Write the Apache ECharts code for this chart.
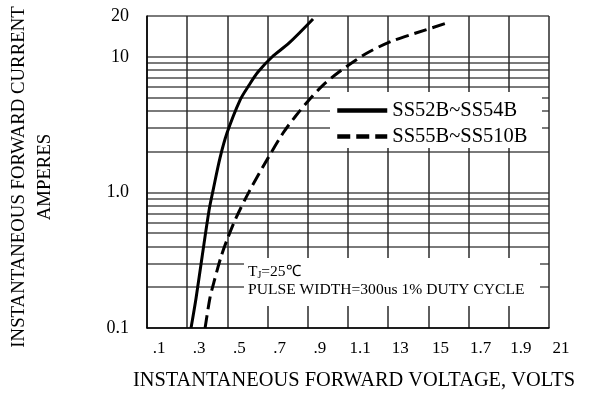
<!DOCTYPE html>
<html><head><meta charset="utf-8">
<script src="https://cdn.jsdelivr.net/npm/echarts@6/dist/echarts.min.js"></script>
<style>html,body{margin:0;padding:0;background:#fff}#c{width:599px;height:398px}</style>
</head><body><div id="c"></div>
<script>
const seriesNames = ['SS52B~SS54B', 'SS55B~SS510B'];
// Solid curve: forward voltage (V) and forward current (A)
const solidV = [0.319, 0.344, 0.374, 0.409, 0.429, 0.463, 0.498, 0.563, 0.608, 0.652, 0.722, 0.806, 0.926];
const solidI = [0.10, 0.166, 0.334, 0.742, 1.04, 1.79, 2.74, 4.80, 6.19, 7.72, 9.97, 12.6, 19.0];
// Dashed curve
const dashV = [0.389, 0.413, 0.433, 0.468, 0.498, 0.543, 0.612, 0.702, 0.777, 0.836, 0.906, 0.976, 1.055, 1.140, 1.204, 1.309, 1.438, 1.592];
const dashI = [0.100, 0.166, 0.218, 0.334, 0.446, 0.648, 1.04, 1.79, 2.74, 3.60, 4.80, 6.19, 7.72, 9.47, 10.85, 12.9, 14.98, 17.75];
// Axis ticks
const xTickValues = [0.1, 0.3, 0.5, 0.7, 0.9, 1.1, 1.3, 1.5, 1.7, 1.9, 2.1];
const xTickLabels = ['.1', '.3', '.5', '.7', '.9', '1.1', '13', '15', '1.7', '1.9', '21'];
const yGridValues = [0.1, 0.2, 0.3, 0.4, 0.5, 0.6, 0.7, 0.8, 0.9, 1, 2, 3, 4, 5, 6, 7, 8, 9, 10, 20];
const yTickValues = [0.1, 1, 10, 20];
const yTickLabels = ['0.1', '1.0', '10', '20'];
const xTitle = 'INSTANTANEOUS FORWARD VOLTAGE, VOLTS';
const yTitle = 'INSTANTANEOUS FORWARD CURRENT\nAMPERES';
const noteLine1 = '{a|T}{s|J}{a|=25\u2103}';
const noteLine2 = 'PULSE WIDTH=300us 1% DUTY CYCLE';

const FONT = 'Liberation Serif';
function lookup(vals, labels, v) {
  for (let i = 0; i < vals.length; i++) {
    if (Math.abs(vals[i] - v) <= Math.abs(vals[i]) * 1e-6) return labels[i];
  }
  return '';
}
const chart = echarts.init(document.getElementById('c'), null, {renderer: 'canvas'});
chart.setOption({
  animation: false,
  backgroundColor: '#fff',
  grid: {left: 147, right: 50, top: 16, bottom: 70, containLabel: false, outerBoundsMode: 'none'},
  xAxis: {
    type: 'value', min: 0.1, max: 2.1,
    axisLine: {show: true, lineStyle: {color: '#000', width: 1.5}},
    axisTick: {show: false, customValues: xTickValues},
    axisLabel: {
      customValues: xTickValues,
      formatter: v => lookup(xTickValues, xTickLabels, v),
      color: '#000', fontFamily: FONT, fontSize: 17, margin: 12, padding: [0, 0, 0, 24]
    },
    splitLine: {show: true, showMinLine: true, showMaxLine: true, lineStyle: {color: '#2a2a2a', width: 1.5}},
    name: xTitle, nameLocation: 'middle', nameGap: 43,
    nameTextStyle: {color: '#000', fontFamily: FONT, fontSize: 20.4, padding: [0, 0, 0, 12]}
  },
  yAxis: {
    type: 'log', logBase: 10, min: 0.1, max: 20,
    axisLine: {show: true, lineStyle: {color: '#000', width: 1.5}},
    axisTick: {show: false, customValues: yGridValues},
    axisLabel: {
      customValues: yTickValues,
      formatter: v => lookup(yTickValues, yTickLabels, v),
      color: '#000', fontFamily: FONT, fontSize: 18, margin: 18
    },
    splitLine: {show: true, showMinLine: true, showMaxLine: true, lineStyle: {color: '#7a7a7a', width: 1.8}},
    name: yTitle, nameLocation: 'middle', nameRotate: 90, nameGap: 89,
    nameTextStyle: {color: '#000', fontFamily: FONT, fontSize: 18.8, lineHeight: 26, align: 'center', padding: [0, 10, 0, 0]}
  },
  legend: {
    orient: 'vertical', left: 330, top: 95, itemWidth: 50, itemHeight: 14, itemGap: 5,
    textStyle: {fontFamily: FONT, fontSize: 20.5, color: '#000'},
    itemStyle: {opacity: 0},
    lineStyle: {width: 4.5},
    data: seriesNames, z: 20, selectedMode: false
  },
  graphic: {
    elements: [
      {type: 'rect', left: 330, top: 92, shape: {width: 212, height: 56}, style: {fill: '#fff'}, z: 10, silent: true},
      {type: 'rect', left: 244, top: 258, shape: {width: 296, height: 48}, style: {fill: '#fff'}, z: 10, silent: true},
      {type: 'text', left: 248, top: 264, z: 21, style: {
        text: noteLine1, fill: '#000',
        rich: {a: {fontFamily: FONT, fontSize: 15.5, fill: '#000'}, s: {fontFamily: FONT, fontSize: 10, fill: '#000', padding: [6, 0, 0, 0]}}
      }},
      {type: 'text', left: 248, top: 282, z: 21, style: {text: noteLine2, fill: '#000', font: '15.6px "Liberation Serif"'}}
    ]
  },
  series: [
    {
      name: seriesNames[0], type: 'line', symbol: 'none', smooth: 0.3, z: 5,
      lineStyle: {color: '#000', width: 3, type: 'solid'}, itemStyle: {color: '#000'},
      data: solidV.map((v, i) => [v, solidI[i]])
    },
    {
      name: seriesNames[1], type: 'line', symbol: 'none', smooth: 0.3, z: 5,
      lineStyle: {color: '#000', width: 3, type: [13, 6]}, itemStyle: {color: '#000'},
      data: dashV.map((v, i) => [v, dashI[i]])
    }
  ]
});
</script>
</body></html>
